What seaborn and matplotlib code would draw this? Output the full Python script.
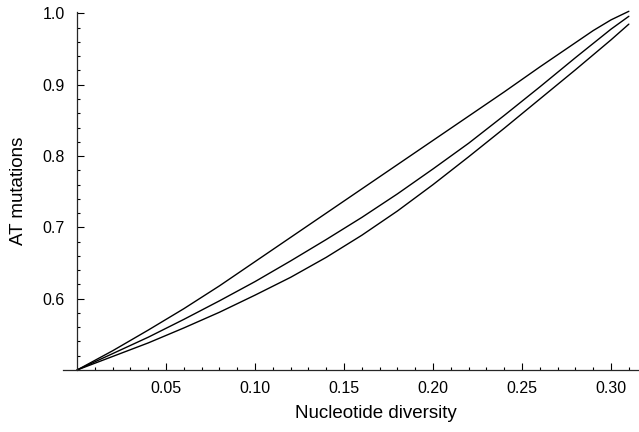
import numpy as np
import pandas as pd
import seaborn as sns
import matplotlib
matplotlib.use("Agg")
import matplotlib.pyplot as plt
from matplotlib.ticker import FixedLocator

# values
diversity = [0.00, 0.02, 0.04, 0.06, 0.08, 0.10, 0.12, 0.14, 0.16,
             0.18, 0.20, 0.22, 0.24, 0.26, 0.28, 0.29, 0.30, 0.31]
at_upper = [0.500, 0.527, 0.556, 0.586, 0.618, 0.652, 0.686, 0.720, 0.754,
            0.788, 0.822, 0.856, 0.890, 0.925, 0.959, 0.976, 0.991, 1.003]
at_middle = [0.500, 0.523, 0.546, 0.571, 0.597, 0.624, 0.653, 0.683, 0.714,
             0.747, 0.782, 0.818, 0.857, 0.897, 0.938, 0.958, 0.978, 0.996]
at_lower = [0.500, 0.519, 0.538, 0.559, 0.581, 0.605, 0.630, 0.658, 0.689,
            0.723, 0.760, 0.799, 0.839, 0.880, 0.921, 0.942, 0.963, 0.985]

x_major = [0.05, 0.10, 0.15, 0.20, 0.25, 0.30]
x_labels = ["0.05", "0.10", "0.15", "0.20", "0.25", "0.30"]
y_major = [0.6, 0.7, 0.8, 0.9, 1.0]
y_labels = ["0.6", "0.7", "0.8", "0.9", "1.0"]

df = pd.concat([
    pd.DataFrame({"pi": diversity, "at": at_upper, "curve": "upper"}),
    pd.DataFrame({"pi": diversity, "at": at_middle, "curve": "middle"}),
    pd.DataFrame({"pi": diversity, "at": at_lower, "curve": "lower"}),
])

sns.set_style("ticks")
plt.rcParams["font.family"] = ["Liberation Sans", "DejaVu Sans"]

fig = plt.figure(figsize=(6.39, 4.32), dpi=100)
ax = fig.add_axes([0.0986, 0.1435, 0.9014, 0.8287])

sns.lineplot(data=df, x="pi", y="at", hue="curve", estimator=None, sort=False,
             palette=["black"] * 3, linewidth=1.0, legend=False, ax=ax)
for ln in ax.lines:
    ln.set_clip_on(False)

ax.set_xlim(-0.0079, 0.3157)
ax.set_ylim(0.5, 1.002)

ax.spines["top"].set_visible(False)
ax.spines["right"].set_visible(False)
ax.spines["left"].set_position(("data", 0))
for s in ("left", "bottom"):
    ax.spines[s].set_linewidth(0.9)

ax.xaxis.set_major_locator(FixedLocator(x_major))
ax.set_xticklabels(x_labels)
ax.xaxis.set_minor_locator(FixedLocator([i / 100 for i in range(1, 32) if i % 5]))
ax.yaxis.set_major_locator(FixedLocator(y_major))
ax.set_yticklabels(y_labels)
ax.yaxis.set_minor_locator(FixedLocator([0.5 + i * 0.02 for i in range(1, 26) if i % 5]))

ax.tick_params(which="both", direction="in", color="black", width=0.8)
ax.tick_params(which="major", length=5, labelsize=11.5, labelcolor="black")
ax.tick_params(which="minor", length=2.5)
ax.tick_params(axis="x", which="major", pad=8)
ax.tick_params(axis="y", which="major", pad=9)

ax.set_xlabel("Nucleotide diversity", fontsize=13.5, color="black")
ax.set_ylabel("AT mutations", fontsize=13.5, color="black")
ax.xaxis.set_label_coords(0.543, -0.098)
ax.yaxis.set_label_coords(-0.063, 0.5)

fig.savefig("out.png", dpi=100)
